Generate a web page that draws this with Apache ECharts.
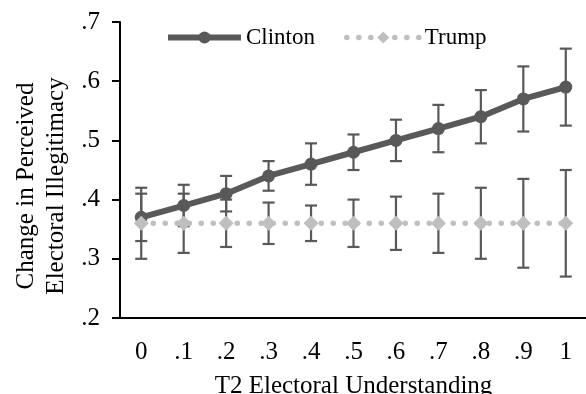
<!DOCTYPE html>
<html><head><meta charset="utf-8">
<script src="https://cdn.jsdelivr.net/npm/echarts@6/dist/echarts.min.js"></script>
<style>html,body{margin:0;padding:0;background:#fff}#c{width:586px;height:394px}</style>
</head><body><div id="c"></div>
<script>
var categories = ['0','.1','.2','.3','.4','.5','.6','.7','.8','.9','1'];
var clinton     = [0.37, 0.39, 0.41, 0.44, 0.46, 0.48, 0.50, 0.52, 0.54, 0.57, 0.59];
var clintonLow  = [0.33, 0.355, 0.38, 0.415, 0.425, 0.45, 0.465, 0.48, 0.495, 0.515, 0.525];
var clintonHigh = [0.41, 0.425, 0.44, 0.465, 0.495, 0.51, 0.535, 0.56, 0.585, 0.625, 0.655];
var trump       = [0.36, 0.36, 0.36, 0.36, 0.36, 0.36, 0.36, 0.36, 0.36, 0.36, 0.36];
var trumpLow    = [0.30, 0.31, 0.32, 0.325, 0.33, 0.32, 0.315, 0.31, 0.30, 0.285, 0.27];
var trumpHigh   = [0.42, 0.41, 0.40, 0.395, 0.39, 0.40, 0.405, 0.41, 0.42, 0.435, 0.45];
var yTicks = ['.2','.3','.4','.5','.6','.7'];
var yTitle = 'Change in Perceived\nElectoral Illegitimacy';
var xTitle = 'T2 Electoral Understanding';

var FONT = '"Liberation Serif", serif';
function errData(lo, hi){ return lo.map(function(v,i){ return [i, v, hi[i]]; }); }
function errRender(params, api){
  var x = api.value(0);
  var lo = api.coord([x, api.value(1)]);
  var hi = api.coord([x, api.value(2)]);
  var w = 6;
  var st = {stroke:'#595959', lineWidth:2.2};
  return {type:'group', children:[
    {type:'line', shape:{x1:lo[0],y1:lo[1],x2:hi[0],y2:hi[1]}, style:st},
    {type:'line', shape:{x1:lo[0]-w,y1:lo[1],x2:lo[0]+w,y2:lo[1]}, style:st},
    {type:'line', shape:{x1:hi[0]-w,y1:hi[1],x2:hi[0]+w,y2:hi[1]}, style:st}
  ]};
}
var legendText = {fontFamily:FONT, fontSize:23, color:'#000',
  rich:{s:{fontFamily:FONT, fontSize:23, color:'#000'}}};
var chart = echarts.init(document.getElementById('c'), null, {renderer:'canvas'});
chart.setOption({
  animation:false,
  textStyle:{fontFamily:FONT},
  grid:{left:120, top:22, width:467, bottom:76, containLabel:false, outerBoundsMode:'none'},
  legend:{
    left:165, top:26, padding:0, itemWidth:73, itemHeight:15, itemGap:29,
    formatter:'{s|{name}}',
    textStyle:legendText,
    data:[
      {name:'Clinton', lineStyle:{width:6, color:'#595959'}},
      {name:'Trump', lineStyle:{width:5.5, color:'#bfbfbf', type:[0.1, 11.9], cap:'round'}}
    ]
  },
  graphic:[{
    type:'text', x:41, y:186, rotation:Math.PI/2,
    style:{text:yTitle, font:'25px "Liberation Serif"', fill:'#000',
      align:'center', verticalAlign:'middle', lineHeight:30}
  }],
  xAxis:{
    type:'category', data:categories, boundaryGap:true,
    axisLine:{lineStyle:{color:'#000', width:2}},
    axisTick:{show:false},
    axisLabel:{fontFamily:FONT, fontSize:25, color:'#000', margin:22},
    name:xTitle, nameLocation:'middle', nameGap:56,
    nameTextStyle:{fontFamily:FONT, fontSize:25, color:'#000'}
  },
  yAxis:{
    type:'value', min:0.2, max:0.7, interval:0.1,
    axisLine:{show:true, lineStyle:{color:'#000', width:2}},
    axisTick:{show:true, length:8, lineStyle:{color:'#000', width:2}},
    splitLine:{show:false},
    axisLabel:{fontFamily:FONT, fontSize:25, color:'#000', margin:20,
      formatter:function(v){ return yTicks[Math.round((v-0.2)*10)]; }}
  },
  series:[
    {type:'custom', name:'errC', data:errData(clintonLow, clintonHigh), renderItem:errRender, z:1, silent:true},
    {type:'custom', name:'errT', data:errData(trumpLow, trumpHigh), renderItem:errRender, z:1, silent:true},
    {type:'line', name:'Clinton', data:clinton, z:3,
      symbol:'circle', symbolSize:13, showAllSymbol:true,
      lineStyle:{color:'#595959', width:6},
      itemStyle:{color:'#595959'}},
    {type:'line', name:'Trump', data:trump, z:4,
      symbol:'diamond', symbolSize:[15,15], showAllSymbol:true,
      lineStyle:{color:'#bfbfbf', width:5.5, type:[0.1, 11.9], cap:'round'},
      itemStyle:{color:'#bfbfbf'}}
  ]
});
</script></body></html>
